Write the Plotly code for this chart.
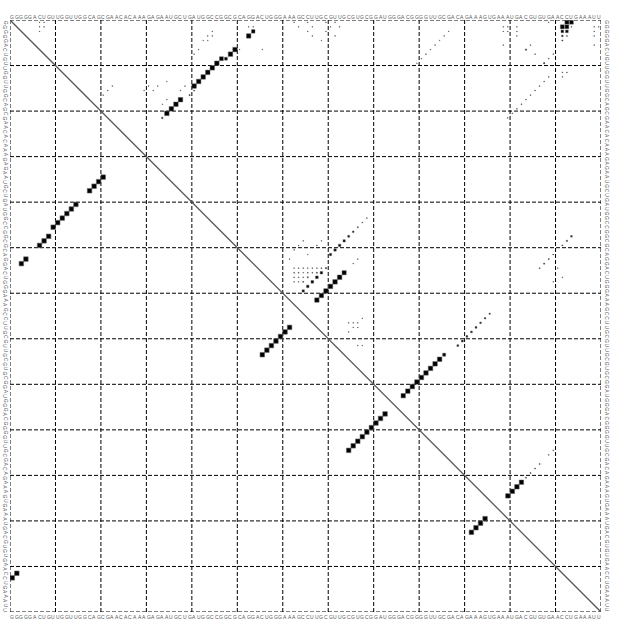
import math
import plotly.graph_objects as go

# ---------------- data ----------------
seq = ("GGGGGACUGUUGGUUGGCAGCGAACACAAAGAG"
       "AAUGCUGAUGGCCGGCGCAGGACUGGGAAAGCC"
       "UUGCGUUGCGUGCGGAUGGGACGGGGUUGCGAC"
       "AGAAAGUGAAAUGACGUGUGAACCUGAAAUU")

# MFE structure base pairs (i, j), drawn in lower-left triangle
mfe_pairs = [
    (1, 123), (2, 122),
    (3, 54), (4, 53),
    (7, 50), (8, 49), (9, 48),
    (10, 46), (11, 45), (12, 44), (13, 43), (14, 42), (15, 41),
    (18, 38), (19, 37), (20, 36), (21, 35),
    (56, 74), (57, 73), (58, 72), (59, 71), (60, 70), (61, 69), (62, 68),
    (75, 95), (76, 94), (77, 93), (78, 92), (79, 91), (80, 90), (81, 89), (82, 88), (83, 87),
    (102, 113), (103, 112), (104, 111), (105, 110),
]

# base pair probabilities (i, j, p), drawn in upper-right triangle
prob_pairs = [
    (1, 123, 0.8), (1, 124, 0.7), (2, 122, 0.8), (2, 123, 0.7), (2, 124, 0.03),
    (3, 122, 0.35), (3, 123, 0.35), (4, 122, 0.12), (4, 123, 0.04), (5, 122, 0.06),
    (12, 122, 0.03), (12, 123, 0.03), (13, 122, 0.02),
    (1, 119, 0.02), (2, 109, 0.02), (2, 110, 0.02), (3, 109, 0.02), (3, 110, 0.02),
    (2, 112, 0.02), (3, 112, 0.02), (4, 112, 0.02), (6, 109, 0.02),
    (6, 115, 0.03), (7, 114, 0.08), (8, 116, 0.03), (8, 120, 0.03), (9, 119, 0.03), (10, 118, 0.08),
    (13, 119, 0.03), (14, 118, 0.03), (15, 117, 0.03), (16, 116, 0.03), (17, 115, 0.03),
    (18, 114, 0.03), (19, 113, 0.03), (20, 112, 0.03), (21, 111, 0.03), (22, 110, 0.03),
    (2, 129, 0.02), (2, 130, 0.02), (3, 129, 0.02), (4, 129, 0.02), (6, 129, 0.02),
    (2, 53, 0.02), (2, 54, 0.02), (3, 54, 0.6), (4, 53, 0.95),
    (7, 50, 1.0), (8, 49, 1.0), (9, 48, 0.4), (9, 47, 0.75),
    (10, 46, 1.0), (11, 45, 1.0), (12, 44, 1.0), (13, 43, 1.0), (14, 42, 1.0), (15, 41, 1.0),
    (16, 41, 0.05), (17, 40, 0.06),
    (18, 38, 1.0), (19, 37, 1.0), (20, 36, 1.0), (21, 35, 1.0), (22, 34, 0.1),
    (3, 45, 0.02), (4, 44, 0.02), (4, 45, 0.02), (5, 43, 0.02), (5, 44, 0.02),
    (7, 42, 0.02), (8, 41, 0.02), (7, 51, 0.02), (7, 56, 0.02),
    (1, 7, 0.02), (1, 8, 0.02), (2, 7, 0.02), (2, 8, 0.02), (3, 7, 0.02),
    (17, 21, 0.02), (16, 22, 0.02), (15, 23, 0.02),
    (16, 30, 0.02), (15, 31, 0.02), (16, 32, 0.02), (15, 33, 0.02), (14, 35, 0.02),
    (15, 39, 0.02), (16, 38, 0.02), (18, 35, 0.02), (19, 34, 0.02),
    (1, 63, 0.01), (2, 64, 0.01), (1, 66, 0.01), (2, 67, 0.01), (3, 66, 0.01), (4, 67, 0.01),
    (1, 70, 0.01), (2, 71, 0.01), (3, 70, 0.01), (5, 69, 0.01), (1, 72, 0.01), (2, 73, 0.01),
    (4, 72, 0.01),
    (3, 97, 0.01), (4, 96, 0.01), (5, 95, 0.01), (6, 94, 0.01), (7, 93, 0.01),
    (8, 92, 0.01), (9, 91, 0.01), (10, 90, 0.01),
    (56, 74, 0.85), (57, 73, 1.0), (58, 72, 1.0), (59, 71, 1.0), (60, 70, 1.0), (61, 69, 0.95), (62, 68, 0.95),
    (56, 69, 0.3), (57, 68, 0.35), (58, 67, 0.35), (59, 66, 0.3), (60, 65, 0.25),
    (55, 63, 0.02), (55, 64, 0.03), (55, 65, 0.03), (55, 66, 0.02), (55, 67, 0.03), (55, 68, 0.03),
    (55, 69, 0.04), (55, 70, 0.08),
    (56, 63, 0.03), (56, 64, 0.03), (56, 65, 0.02), (56, 66, 0.03), (56, 67, 0.03), (56, 68, 0.06),
    (57, 63, 0.03), (57, 64, 0.03), (57, 65, 0.03), (57, 66, 0.06),
    (58, 63, 0.02), (58, 64, 0.02), (58, 65, 0.05),
    (52, 71, 0.25), (51, 72, 0.28), (50, 73, 0.28), (49, 74, 0.25), (48, 75, 0.18), (47, 76, 0.12),
    (46, 77, 0.05), (45, 78, 0.03), (44, 79, 0.03),
    (53, 62, 0.02), (50, 64, 0.02), (51, 63, 0.02), (52, 66, 0.02), (50, 68, 0.02), (49, 65, 0.02),
    (49, 69, 0.02), (54, 76, 0.02), (53, 77, 0.02),
    (67, 75, 0.02), (67, 76, 0.02), (67, 77, 0.02), (66, 78, 0.02), (68, 76, 0.02), (68, 77, 0.02),
    (69, 75, 0.02), (72, 77, 0.02), (72, 78, 0.02),
    (74, 96, 0.45), (75, 95, 1.0), (76, 94, 1.0), (77, 93, 1.0), (78, 92, 1.0), (79, 91, 1.0),
    (80, 90, 1.0), (81, 89, 1.0), (82, 88, 1.0), (83, 87, 0.95),
    (72, 99, 0.15), (71, 100, 0.18), (70, 101, 0.15), (69, 102, 0.15), (68, 103, 0.15),
    (67, 104, 0.12), (66, 105, 0.1), (65, 106, 0.08),
    (48, 124, 0.12), (49, 123, 0.08), (50, 122, 0.05), (52, 120, 0.04), (53, 119, 0.05),
    (54, 118, 0.06), (55, 117, 0.04), (55, 121, 0.02), (57, 122, 0.02), (58, 120, 0.02),
    (102, 113, 0.95), (103, 112, 1.0), (104, 111, 1.0), (105, 110, 0.95),
    (101, 114, 0.05), (100, 115, 0.05), (99, 116, 0.04), (98, 117, 0.04), (96, 119, 0.03), (95, 120, 0.03),
]

# ---------------- layout geometry ----------------
W, H = 628, 626
ML, MR, MT, MB = 10, 27, 20, 14
n = len(seq)
cell = (W - ML - MR) / n  # px per nucleotide
cell_y = (H - MT - MB) / n

fig = go.Figure()

# diagonal
fig.add_trace(go.Scatter(
    x=[0.5, n + 0.5], y=[0.5, n + 0.5], mode="lines",
    line=dict(color="#555555", width=1.3), hoverinfo="skip", showlegend=False))

# probability squares (upper right)
fig.add_trace(go.Scatter(
    x=[p[1] for p in prob_pairs], y=[p[0] for p in prob_pairs], mode="markers",
    marker=dict(symbol="square", color="black", opacity=1,
                size=[max(cell * math.sqrt(p[2]), 0.7) for p in prob_pairs],
                line=dict(width=0.5, color="#666666")),
    hoverinfo="skip", showlegend=False))

# MFE squares (lower left)
fig.add_trace(go.Scatter(
    x=[p[0] for p in mfe_pairs], y=[p[1] for p in mfe_pairs], mode="markers",
    marker=dict(symbol="square", color="black", size=cell, opacity=1,
                line=dict(width=0.6, color="#666666")),
    hoverinfo="skip", showlegend=False))

# dashed grid + frame
shapes = []
for k in range(0, n + 1, 10):
    pos = k + 0.5
    shapes.append(dict(type="line", xref="x", yref="y", x0=pos, x1=pos, y0=0.5, y1=n + 0.5,
                       line=dict(color="black", width=1, dash="4px,2px"), layer="below"))
    shapes.append(dict(type="line", xref="x", yref="y", y0=pos, y1=pos, x0=0.5, x1=n + 0.5,
                       line=dict(color="black", width=1, dash="4px,2px"), layer="below"))


def xp(v):
    """data x -> paper x"""
    return (v - 0.5) / n


def yp(v):
    """data y (reversed axis) -> paper y"""
    return 1 - (v - 0.5) / n


# sequence labels on all four sides
ann = []
font = dict(family="Liberation Sans", size=5, color="#555555")
off_top = 3.0 / cell_y
off_bot = 5.5 / cell_y
off_left = 4.5 / cell
off_right = 6.0 / cell
for idx, ch in enumerate(seq, start=1):
    ann.append(dict(x=xp(idx), y=yp(0.5 - off_top), xref="paper", yref="paper", text=ch,
                    showarrow=False, font=font, xanchor="center", yanchor="middle"))
    ann.append(dict(x=xp(idx), y=yp(n + 0.5 + off_bot), xref="paper", yref="paper", text=ch,
                    showarrow=False, font=font, xanchor="center", yanchor="middle"))
    ann.append(dict(x=xp(0.5 - off_left), y=yp(idx), xref="paper", yref="paper", text=ch,
                    showarrow=False, font=font, textangle=90, xanchor="center", yanchor="middle"))
    ann.append(dict(x=xp(n + 0.5 + off_right), y=yp(idx), xref="paper", yref="paper", text=ch,
                    showarrow=False, font=font, textangle=90, xanchor="center", yanchor="middle"))

fig.update_layout(
    width=W, height=H,
    margin=dict(l=ML, r=MR, t=MT, b=MB, pad=0, autoexpand=False),
    paper_bgcolor="white", plot_bgcolor="white",
    shapes=shapes, annotations=ann,
    xaxis=dict(range=[0.5, n + 0.5], showgrid=False, zeroline=False, showticklabels=False,
               showline=False, ticks=""),
    yaxis=dict(range=[n + 0.5, 0.5], showgrid=False, zeroline=False, showticklabels=False,
               showline=False, ticks=""),
)

fig.write_html("out.html", config={"displayModeBar": False},
               post_script="document.body.style.margin='0';document.body.style.overflow='hidden';")
